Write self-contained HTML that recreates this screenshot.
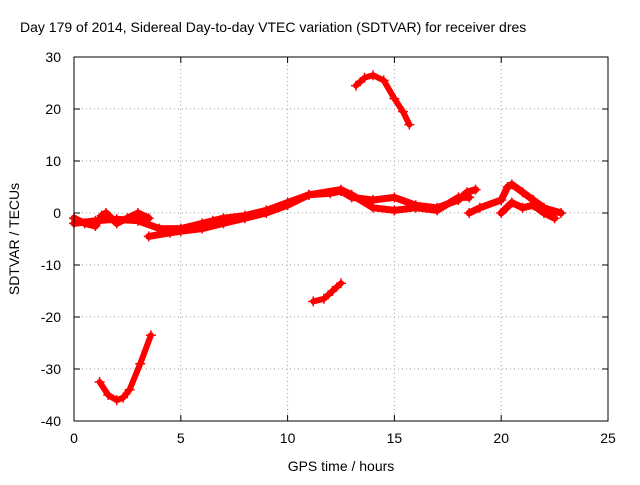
<!DOCTYPE html>
<html><head><meta charset="utf-8"><style>
body{margin:0;background:#fff;}
svg text{font-family:"Liberation Sans",sans-serif;font-size:14px;fill:#000;}
</style></head><body>
<svg id="chart" width="640" height="480" viewBox="0 0 640 480" xmlns="http://www.w3.org/2000/svg">
<rect width="640" height="480" fill="#fff"/>
<text x="20" y="32">Day 179 of 2014, Sidereal Day-to-day VTEC variation (SDTVAR) for receiver dres</text>
<g id="grid"></g><g id="marks"></g><g id="axes"></g>
<text x="341" y="471" text-anchor="middle">GPS time / hours</text>
<text transform="translate(19,239) rotate(-90)" text-anchor="middle">SDTVAR / TECUs</text>
</svg>
<script>
const xTicks=[0,5,10,15,20,25];
const yTicks=[-40,-30,-20,-10,0,10,20,30];
const seg0X=[0,0.5,1,1.3,1.5,2,2.5,3,3.5];
const seg0Y=[-1,-2,-2.5,-0.5,0,-2,-1,0,-1];
const seg1X=[0,1,2,3,4,5,6,6.5,7,8,9,10,11,12,12.5,13,14,15,16,17,18,18.4,18.8];
const seg1Y=[-2,-1.5,-1.2,-1.5,-3,-3,-2,-1.5,-1,-0.5,0.5,2,3.5,3.8,4.2,3,2.5,3,1.5,1,2.5,4,4.5];
const seg2X=[3.5,4.5,5,6,7,8,9,10,11,12.5,13,14,15,16,17,18,18.5];
const seg2Y=[-4.5,-3.8,-3.5,-3,-2,-1,0,1.5,3.5,4.5,3.5,1,0.5,1,0.5,3,3];
const seg3X=[18.5,19,20,20.3,20.5,21,21.5,22,22.8];
const seg3Y=[0,1,2.5,5,5.5,4,2.5,1,0];
const seg4X=[20,20.5,21,21.5,22,22.5];
const seg4Y=[0,2,1,1.5,0,-1];
const segAX=[1.2,1.6,2.0,2.3,2.6,3.1,3.6];
const segAY=[-32.5,-35,-36,-35.5,-34,-29,-23.5];
const segBX=[13.2,13.6,14.0,14.5,15.0,15.4,15.7];
const segBY=[24.5,26,26.5,25.5,22,19.5,17];
const segCX=[11.2,11.7,12.1,12.5];
const segCY=[-17,-16.5,-15,-13.5];
const L=74,R=608,T=57,B=421;
const sx=v=>L+(v-0)/(25-0)*(R-L);
const sy=v=>B-(v+40)/70*(B-T);
const NS='http://www.w3.org/2000/svg';
function mk(t,a,p){const e=document.createElementNS(NS,t);for(const k in a)e.setAttribute(k,a[k]);p.appendChild(e);return e;}
const grid=document.getElementById('grid'),axes=document.getElementById('axes'),marks=document.getElementById('marks');
xTicks.forEach(v=>{
 if(v>0&&v<25){const g=mk('line',{x1:sx(v),x2:sx(v),y1:T,y2:B,stroke:'#a0a0a0','stroke-dasharray':'1,3'},grid);
 }
 const t=mk('text',{x:sx(v),y:B+22,'text-anchor':'middle'},axes);t.textContent=v;
 
 mk('line',{x1:sx(v),x2:sx(v),y1:B,y2:B-6,stroke:'#000'},axes);
 mk('line',{x1:sx(v),x2:sx(v),y1:T,y2:T+6,stroke:'#000'},axes);
});
yTicks.forEach(v=>{
 if(v>-40&&v<30){const g=mk('line',{x1:L,x2:R,y1:sy(v),y2:sy(v),stroke:'#a0a0a0','stroke-dasharray':'1,3'},grid);
 }
 const t=mk('text',{x:L-13,y:sy(v)+5,'text-anchor':'end'},axes);t.textContent=v;
 
 mk('line',{x1:L,x2:L+6,y1:sy(v),y2:sy(v),stroke:'#000'},axes);
 mk('line',{x1:R,x2:R-6,y1:sy(v),y2:sy(v),stroke:'#000'},axes);
});
const frame=mk('rect',{x:L,y:T,width:R-L,height:B-T,fill:'none',stroke:'#000'},axes);

const segs=[[seg0X,seg0Y,7],[seg1X,seg1Y,7],[seg2X,seg2Y,7],[seg3X,seg3Y,7],[seg4X,seg4Y,7],[segAX,segAY,6],[segBX,segBY,6],[segCX,segCY,6]];
segs.forEach(([xs,ys,w],i)=>{
 const pts=xs.map((x,j)=>sx(x)+','+sy(ys[j])).join(' ');
 const pl=mk('polyline',{points:pts,fill:'none',stroke:'#ff0000','stroke-width':w,'stroke-linejoin':'round','stroke-linecap':'round'},marks);
 
 
 xs.forEach((x,j)=>{
  const px=sx(x),py=sy(ys[j]);
  const p=mk('path',{d:`M${px-5},${py}H${px+5}M${px},${py-5}V${py+5}`,stroke:'#ff0000','stroke-width':1.5},marks);
  
  
 });
});
</script>
</body></html>
